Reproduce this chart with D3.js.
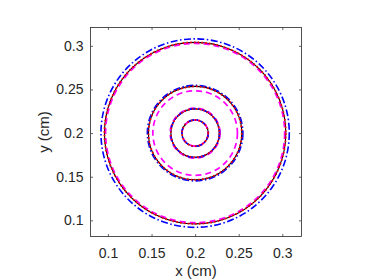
<!DOCTYPE html>
<html>
<head>
<meta charset="utf-8">
<script src="https://cdn.jsdelivr.net/npm/d3@7"></script>
<style>
  body { margin: 0; background: #fff; }
  text { font-family: "Liberation Sans", Arial, sans-serif; fill: #262626; }
</style>
</head>
<body>
<div id="graph"></div>
<script>
// circle centre (cm)
var centreX = 0.2, centreY = 0.2;

// radii of the rings for each curve (cm)
var radiiBlack   = [0.104, 0.0535, 0.0278, 0.015];
var radiiRed     = [0.104, 0.0535, 0.0278, 0.015];
var radiiBlue    = [0.108, 0.0548, 0.0280, 0.0152];
var radiiMagenta = [0.1027, 0.0485, 0.0286, 0.0150];

var xTicks = [0.1, 0.15, 0.2, 0.25, 0.3];
var yTicks = [0.1, 0.15, 0.2, 0.25, 0.3];

var series = [
  {radii: radiiBlack, color: "#000000", dash: null, width: 1.1},
  {radii: radiiMagenta, color: "#ff00ff", dash: "6,4", width: 1.7},
  {radii: radiiBlue, color: "#0000ff", dash: "7,2.5,1.5,2.5", width: 1.6},
  {radii: radiiRed, color: "#ff0000", dash: "1.6,2.2", width: 1.8}
];

var margin = {top: 27.5, right: 72.5, bottom: 43.5, left: 90.5},
  width = 374 - margin.left - margin.right,
  height = 280 - margin.top - margin.bottom;

var svg = d3.select("#graph")
  .append("svg")
  .attr("width", 374)
  .attr("height", 280)
  .append("g")
  .attr("transform", "translate(" + margin.left + "," + margin.top + ")");

var x = d3.scaleLinear().domain([0.08, 0.322]).range([0, width]);
var y = d3.scaleLinear().domain([0.0815, 0.321]).range([height, 0]);

// circles
series.forEach(function(s){
  svg.selectAll(null)
    .data(s.radii)
    .enter()
    .append("ellipse")
    .attr("cx", x(centreX))
    .attr("cy", y(centreY))
    .attr("rx", function(r){ return x(centreX + r) - x(centreX); })
    .attr("ry", function(r){ return y(centreY) - y(centreY + r); })
    .attr("fill", "none")
    .attr("stroke", s.color)
    .attr("stroke-width", s.width)
    .attr("stroke-dasharray", s.dash);
});

// axes, ticks inside on all four sides
var tickLen = 2.5;
var xAxis = d3.axisBottom(x).tickValues(xTicks).tickSize(-tickLen).tickPadding(12).tickFormat(d3.format("~g"));
var yAxis = d3.axisLeft(y).tickValues(yTicks).tickSize(-tickLen).tickPadding(7).tickFormat(d3.format("~g"));

var gx = svg.append("g").attr("transform", "translate(0," + height + ")").call(xAxis);
var gy = svg.append("g").call(yAxis);
var gxTop = svg.append("g").call(d3.axisTop(x).tickValues(xTicks).tickSize(-tickLen).tickFormat(""));
var gyRight = svg.append("g").attr("transform", "translate(" + width + ",0)")
  .call(d3.axisRight(y).tickValues(yTicks).tickSize(-tickLen).tickFormat(""));

[gx, gy, gxTop, gyRight].forEach(function(g){
  g.select(".domain").remove();
  g.selectAll(".tick line").attr("stroke", "#262626").attr("stroke-width", 0.7);
  g.selectAll(".tick text").style("font-size", "14px").attr("fill", "#262626");
});

svg.append("rect")
  .attr("width", width)
  .attr("height", height)
  .attr("fill", "none")
  .attr("stroke", "#262626")
  .attr("stroke-width", 0.8);

svg.append("text")
  .attr("x", width / 2)
  .attr("y", height + 39)
  .attr("text-anchor", "middle")
  .style("font-size", "15px")
  .text("x (cm)");

svg.append("text")
  .attr("transform", "translate(" + (-42) + "," + (height / 2) + ") rotate(-90)")
  .attr("text-anchor", "middle")
  .style("font-size", "15px")
  .text("y (cm)");
</script>
</body>
</html>
